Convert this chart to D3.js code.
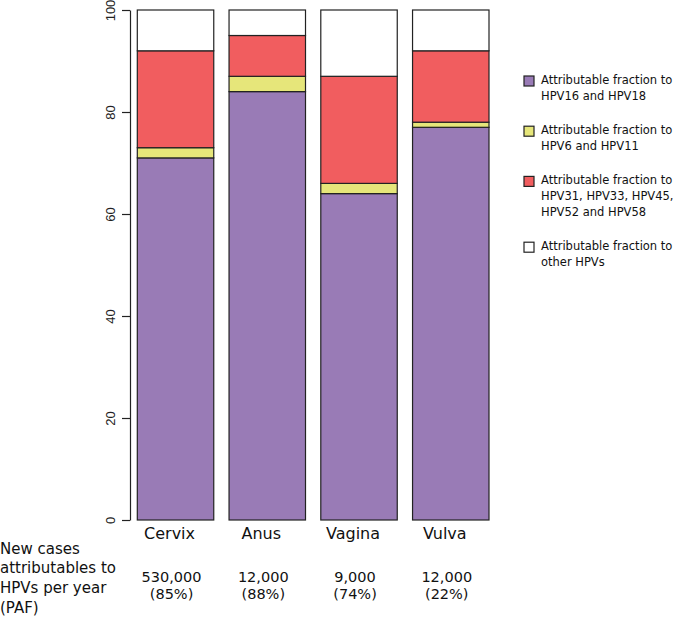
<!DOCTYPE html>
<html>
<head>
<meta charset="utf-8">
<script src="https://cdn.jsdelivr.net/npm/d3@7"></script>
<style>
  html, body { margin: 0; padding: 0; background: #fff; }
  svg { display: block; }
</style>
</head>
<body>
<div id="chart"></div>
<script>
const categories = ["Cervix", "Anus", "Vagina", "Vulva"];
const hpv16_18 = [71, 84, 64, 77];
const hpv6_11 = [2, 3, 2, 1];
const hpv31_58 = [19, 8, 21, 14];
const hpvOther = [8, 5, 13, 8];
const newCases = ["530,000", "12,000", "9,000", "12,000"];
const pafLabels = ["(85%)", "(88%)", "(74%)", "(22%)"];
const yTicks = [0, 20, 40, 60, 80, 100];
const seriesNames = [
  ["Attributable fraction to", "HPV16 and HPV18"],
  ["Attributable fraction to", "HPV6 and HPV11"],
  ["Attributable fraction to", "HPV31, HPV33, HPV45,", "HPV52 and HPV58"],
  ["Attributable fraction to", "other HPVs"]
];
const seriesColors = ["#997BB6", "#E6E67A", "#F15D5F", "#FFFFFF"];
const leftNote = ["New cases", "attributables to", "HPVs per year", "(PAF)"];

const W = 677, H = 619;
const svg = d3.select("#chart").append("svg").attr("width", W).attr("height", H);

const keys = ["a", "b", "c", "d"];
const rows = categories.map((c, i) => ({cat: c, a: hpv16_18[i], b: hpv6_11[i], c: hpv31_58[i], d: hpvOther[i]}));
const stack = d3.stack().keys(keys)(rows);

const x = d3.scaleBand().domain(categories).range([137.3, 489]).paddingInner(1/6).paddingOuter(0);
const y = d3.scaleLinear().domain([0, 100]).range([520, 10]);

const font = "'DejaVu Sans', Verdana, sans-serif";

// bars
stack.forEach((layer, li) => {
  svg.append("g").selectAll("rect").data(layer).join("rect")
    .attr("x", d => x(d.data.cat))
    .attr("width", x.bandwidth())
    .attr("y", d => y(d[1]))
    .attr("height", d => y(d[0]) - y(d[1]))
    .attr("fill", seriesColors[li])
    .attr("stroke", "#222")
    .attr("stroke-width", 1.2);
});

// y axis
const yAxis = d3.axisLeft(y).tickValues(yTicks).tickSize(8).tickSizeOuter(0);
const ga = svg.append("g").attr("transform", "translate(130,0)").call(yAxis);
ga.select(".domain").attr("stroke", "#222").attr("stroke-width", 1.2);
ga.selectAll(".tick line").attr("stroke", "#222").attr("stroke-width", 1.2);
ga.selectAll(".tick text")
  .attr("font-family", "'Liberation Sans', Arial, sans-serif")
  .attr("font-size", 13)
  .attr("fill", "#222")
  .attr("x", 0).attr("dy", 0)
  .attr("text-anchor", "middle")
  .attr("transform", "translate(-15,0) rotate(-90)")
  .attr("y", 0);

// category labels
svg.append("g").selectAll("text").data(categories).join("text")
  .attr("x", d => x(d) + x.bandwidth() / 2 - 6)
  .attr("y", 539)
  .attr("text-anchor", "middle")
  .attr("font-family", font)
  .attr("font-size", 16)
  .attr("fill", "#111")
  .text(d => d);

// case numbers
svg.append("g").selectAll("text").data(categories).join("text")
  .attr("x", d => x(d) + x.bandwidth() / 2 - 4)
  .attr("y", 582)
  .attr("text-anchor", "middle")
  .attr("font-family", font)
  .attr("font-size", 14.5)
  .attr("fill", "#111")
  .text((d, i) => newCases[i]);
svg.append("g").selectAll("text").data(categories).join("text")
  .attr("x", d => x(d) + x.bandwidth() / 2 - 4)
  .attr("y", 599)
  .attr("text-anchor", "middle")
  .attr("font-family", font)
  .attr("font-size", 14.5)
  .attr("fill", "#111")
  .text((d, i) => pafLabels[i]);

// left note
svg.append("g").selectAll("text").data(leftNote).join("text")
  .attr("x", 0)
  .attr("y", (d, i) => 553.5 + i * 19.7)
  .attr("font-family", font)
  .attr("font-size", 15)
  .attr("fill", "#111")
  .text(d => d);

// legend
let base = 84;
const lg = svg.append("g");
seriesNames.forEach((lines, i) => {
  lg.append("rect")
    .attr("x", 524).attr("y", base - 8)
    .attr("width", 10).attr("height", 10)
    .attr("fill", seriesColors[i]).attr("stroke", "#222").attr("stroke-width", 1.2);
  lines.forEach((t, j) => {
    lg.append("text")
      .attr("x", 541).attr("y", base + j * 15.6)
      .attr("font-family", font).attr("font-size", 11.5).attr("fill", "#111")
      .text(t);
  });
  base += (lines.length - 1) * 15.6 + 34.6;
});
</script>
</body>
</html>
